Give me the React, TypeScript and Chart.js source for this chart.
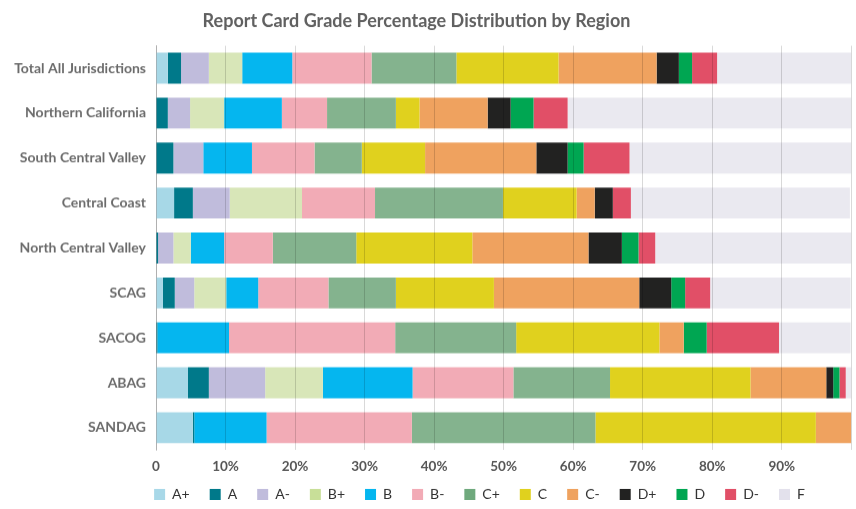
import React, { useEffect, useRef } from "react";
import { Chart, registerables } from "chart.js";

Chart.register(...registerables);

const regions = [
  "Total All Jurisdictions",
  "Northern California",
  "South Central Valley",
  "Central Coast",
  "North Central Valley",
  "SCAG",
  "SACOG",
  "ABAG",
  "SANDAG",
];

const grades = ["A+", "A", "A-", "B+", "B", "B-", "C+", "C", "C-", "D+", "D", "D-", "F"];

const aPlus = [1.7, 0, 0, 2.6, 0, 1.0, 0, 4.6, 5.3];
const aMid = [1.9, 1.7, 2.5, 2.7, 0.3, 1.7, 0.2, 3.0, 0.2];
const aMinus = [4.0, 3.2, 4.3, 5.3, 2.2, 2.8, 0, 8.1, 0];
const bPlus = [4.8, 4.9, 0, 10.4, 2.5, 4.6, 0, 8.3, 0];
const bMid = [7.2, 8.3, 7.0, 0, 4.8, 4.6, 10.3, 12.9, 10.4];
const bMinus = [11.4, 6.5, 9.0, 10.5, 7.0, 10.1, 23.9, 14.5, 20.9];
const cPlus = [12.2, 9.9, 6.8, 18.4, 12.0, 9.7, 17.4, 13.9, 26.4];
const cMid = [14.7, 3.4, 9.1, 10.6, 16.7, 14.1, 20.6, 20.2, 31.7];
const cMinus = [14.1, 9.8, 16.0, 2.6, 16.7, 20.9, 3.5, 10.9, 5.1];
const dPlus = [3.2, 3.3, 4.5, 2.6, 4.8, 4.6, 0, 1.0, 0];
const dMid = [1.9, 3.3, 2.3, 0, 2.4, 2.0, 3.3, 0.9, 0];
const dMinus = [3.6, 4.9, 6.6, 2.6, 2.4, 3.6, 10.4, 0.9, 0];
const fGrade = [19.3, 40.8, 31.9, 31.5, 28.2, 20.2, 10.3, 0.8, 0];

const seriesValues = [aPlus, aMid, aMinus, bPlus, bMid, bMinus, cPlus, cMid, cMinus, dPlus, dMid, dMinus, fGrade];

const xTickValues = [0, 10, 20, 30, 40, 50, 60, 70, 80, 90, 100];

const barColors = [
  "#a7d8e7", "#00798a", "#c0bcdc", "#d8e6b8", "#05b6ef", "#f2abb6", "#84b38e",
  "#e0d11e", "#efa25f", "#222221", "#00a652", "#e14f67", "#eae9f0",
];
const legendColors = [
  "#a8d8e8", "#00798a", "#c0bcdc", "#c8df98", "#05b6ef", "#f2abb6", "#6fa97d",
  "#e0d11e", "#efa25f", "#222221", "#00a652", "#e14f67", "#e3e1ec",
];

const placePlugin = {
  id: "place",
  afterLayout(chart: any) {
    const t = chart.titleBlock;
    if (t) {
      t.left = 0;
      t.right = 833;
    }
    const l = chart.legend;
    if (l) {
      l.left = 103;
      l.right = 856;
      l.top = 466.5;
    }
  },
};

export default function App() {
  const ref = useRef<HTMLCanvasElement | null>(null);

  useEffect(() => {
    if (!ref.current) return;
    Chart.defaults.font.family = "Lato, 'Noto Sans', sans-serif";
    const chart = new Chart(ref.current, {
      type: "bar",
      data: {
        labels: regions,
        datasets: grades.map((g, i) => ({
          label: g,
          data: seriesValues[i],
          backgroundColor: barColors[i],
          borderWidth: 0,
          barPercentage: 0.86,
          categoryPercentage: 0.8,
        })),
      },
      options: {
        indexAxis: "y",
        animation: false,
        responsive: true,
        maintainAspectRatio: false,
        layout: { padding: { left: 0, right: 0, top: 0, bottom: 0 } },
        scales: {
          x: {
            stacked: true,
            min: 0,
            max: 100,
            afterBuildTicks: (s: any) => {
              s.ticks = xTickValues.map((v) => ({ value: v }));
            },
            grid: {
              color: "rgba(0,0,0,0.15)",
              lineWidth: 1,
              drawTicks: false,
              z: 1,
            },
            border: { display: false },
            ticks: {
              padding: 8,
              color: "#555555",
              font: { size: 13.5, weight: "bold" },
              callback: (v: any) => (v === 0 ? "0" : v === 100 ? "" : v + "%"),
            },
          },
          y: {
            stacked: true,
            grid: { display: false, drawTicks: false },
            border: { display: true, color: "#cfcfcf", width: 1 },
            afterFit: (s: any) => {
              s.width = 156;
            },
            ticks: {
              padding: 10,
              color: "#6b6b6b",
              font: { size: 14, weight: "bold" },
            },
          },
        },
        plugins: {
          title: {
            display: true,
            text: "Report Card Grade Percentage Distribution by Region",
            color: "#606060",
            font: { size: 18, weight: "bold" },
            padding: { top: 10, bottom: 14 },
          },
          legend: {
            display: true,
            position: "bottom",
            labels: {
              boxWidth: 11,
              boxHeight: 11,
              padding: 20,
              color: "#333333",
              font: { size: 14 },
              generateLabels: (c: any) =>
                c.data.datasets.map((d: any, i: number) => ({
                  text: d.label,
                  fillStyle: legendColors[i],
                  strokeStyle: legendColors[i],
                  lineWidth: 0,
                  hidden: false,
                  datasetIndex: i,
                  fontColor: "#333333",
                })),
            },
          },
          tooltip: { enabled: false },
        },
      },
      plugins: [placePlugin],
    });
    return () => chart.destroy();
  }, []);

  return (
    <div
      style={{
        position: "fixed",
        left: 0,
        top: 0,
        width: 856,
        height: 509,
        overflow: "hidden",
        background: "#ffffff",
      }}
    >
      <div style={{ position: "relative", width: 859.3, height: 525.5 }}>
        <canvas ref={ref} />
      </div>
    </div>
  );
}
